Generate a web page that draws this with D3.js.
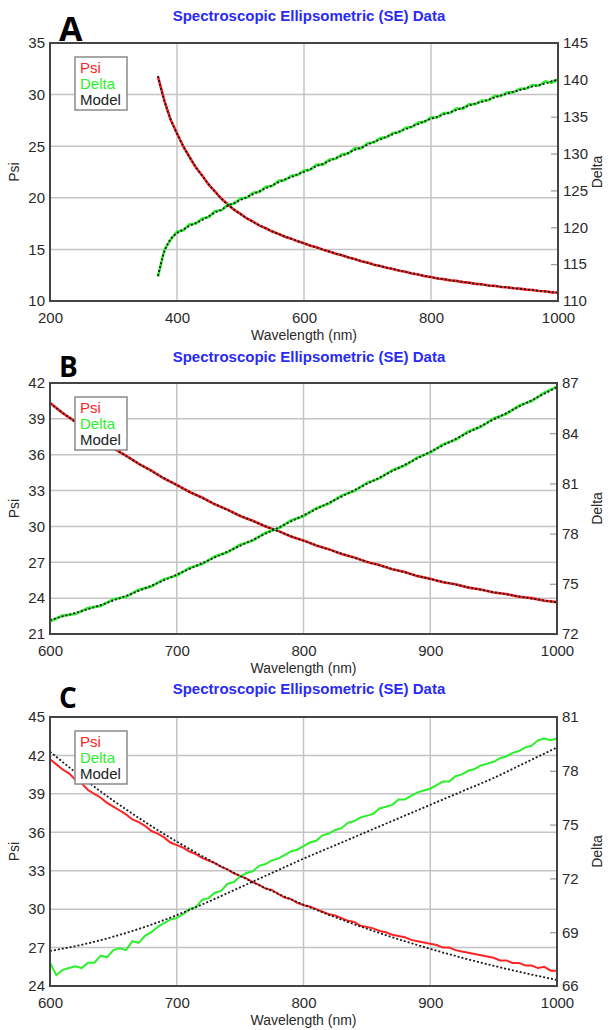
<!DOCTYPE html>
<html>
<head>
<meta charset="utf-8">
<script src="https://cdn.jsdelivr.net/npm/d3@7"></script>
<style>
  body { margin: 0; background: #fff; }
  svg text { font-family: "Liberation Sans", Arial, sans-serif; }
</style>
</head>
<body>
<script>
// ---- data ----
const titleText = "Spectroscopic Ellipsometric (SE) Data";
const legendItems = ["Psi", "Delta", "Model"];

// panel A
const xTicksA = [200, 400, 600, 800, 1000];
const psiTicksA = [10, 15, 20, 25, 30, 35];
const deltaTicksA = [110, 115, 120, 125, 130, 135, 140, 145];
const wlA = d3.range(370, 1001, 10);
const psiA = [31.75, 29.45, 27.55, 26.25,
  24.95, 23.93, 22.9, 22.14, 21.27, 20.6, 19.9, 19.37, 18.83, 18.44,
  18.0, 17.68, 17.3, 17.05, 16.73, 16.5, 16.23, 16.04, 15.78, 15.6,
  15.36, 15.2, 14.96, 14.8, 14.58, 14.43, 14.21, 14.06, 13.85, 13.72,
  13.52, 13.4, 13.22, 13.11, 12.94, 12.84, 12.67, 12.57, 12.41, 12.32,
  12.18, 12.12, 12.0, 11.95, 11.83, 11.78, 11.66, 11.62, 11.5, 11.47,
  11.36, 11.33, 11.23, 11.2, 11.1, 11.07, 10.97, 10.94, 10.84, 10.82];
const psiModelA = [31.8, 29.4, 27.6, 26.2,
  25.0, 23.9, 22.95, 22.1, 21.3, 20.58, 19.92, 19.34, 18.86, 18.42,
  18.02, 17.66, 17.33, 17.03, 16.75, 16.49, 16.25, 16.02, 15.8, 15.59,
  15.38, 15.18, 14.98, 14.79, 14.6, 14.41, 14.23, 14.05, 13.87, 13.7,
  13.54, 13.39, 13.24, 13.1, 12.96, 12.82, 12.69, 12.56, 12.43, 12.3,
  12.2, 12.11, 12.02, 11.93, 11.85, 11.76, 11.68, 11.6, 11.52, 11.45,
  11.38, 11.31, 11.25, 11.18, 11.12, 11.05, 10.99, 10.92, 10.86, 10.8];
const deltaA = [113.3, 116.9, 118.3, 119.4,
  119.6, 120.4, 120.5, 121.2, 121.4, 122.2, 122.3, 123.1, 123.2, 123.9,
  124.0, 124.7, 124.8, 125.5, 125.6, 126.3, 126.4, 127.0, 127.1, 127.7,
  127.8, 128.5, 128.5, 129.2, 129.3, 129.9, 130.0, 130.7, 130.7, 131.4,
  131.5, 132.1, 132.2, 132.8, 132.9, 133.5, 133.6, 134.2, 134.3, 134.9,
  134.9, 135.5, 135.5, 136.1, 136.1, 136.7, 136.7, 137.2, 137.2, 137.8,
  137.8, 138.3, 138.3, 138.8, 138.8, 139.3, 139.2, 139.8, 139.6, 140.1];
const deltaModelA = [113.4, 116.7, 118.4, 119.2,
  119.7, 120.2, 120.6, 121.0, 121.5, 122.0, 122.4, 122.9, 123.3, 123.7,
  124.1, 124.5, 124.9, 125.3, 125.7, 126.1, 126.5, 126.8, 127.2, 127.5,
  127.9, 128.3, 128.6, 129.0, 129.4, 129.7, 130.1, 130.5, 130.8, 131.2,
  131.6, 131.9, 132.3, 132.6, 133.0, 133.3, 133.7, 134.0, 134.4, 134.7,
  135.0, 135.3, 135.6, 135.9, 136.2, 136.5, 136.8, 137.0, 137.3, 137.6,
  137.9, 138.1, 138.4, 138.6, 138.9, 139.1, 139.3, 139.5, 139.8, 140.0];

// panel B
const xTicksB = [600, 700, 800, 900, 1000];
const psiTicksB = [21, 24, 27, 30, 33, 36, 39, 42];
const deltaTicksB = [72, 75, 78, 81, 84, 87];
const wlB = d3.range(600, 1001, 10);
const psiB = [40.35, 39.48, 38.77, 37.96, 37.29, 36.52, 35.92, 35.23, 34.67, 34.01, 33.48,
  32.88, 32.42, 31.85, 31.41, 30.87, 30.48, 29.99, 29.63, 29.16, 28.83,
  28.4, 28.1, 27.69, 27.41, 27.02, 26.77, 26.41, 26.18, 25.84, 25.63,
  25.33, 25.16, 24.88, 24.73, 24.47, 24.35, 24.11, 24.0, 23.78, 23.67];
const psiModelB = [40.3, 39.51, 38.74, 37.99, 37.26, 36.55, 35.89, 35.26, 34.64, 34.04, 33.45,
  32.91, 32.39, 31.88, 31.38, 30.9, 30.45, 30.02, 29.6, 29.19, 28.8,
  28.43, 28.07, 27.72, 27.38, 27.05, 26.74, 26.44, 26.15, 25.87, 25.6,
  25.36, 25.13, 24.91, 24.7, 24.5, 24.32, 24.14, 23.97, 23.81, 23.65];
const deltaB = [72.75, 73.1, 73.2, 73.55, 73.68, 74.08, 74.22, 74.65, 74.84, 75.28, 75.5,
  75.95, 76.18, 76.63, 76.88, 77.33, 77.58, 78.05, 78.3, 78.78, 79.04,
  79.52, 79.79, 80.27, 80.54, 81.03, 81.3, 81.79, 82.07, 82.56, 82.84,
  83.33, 83.61, 84.1, 84.38, 84.88, 85.15, 85.65, 85.92, 86.42, 86.78];
const deltaModelB = [72.85, 73.05, 73.26, 73.48, 73.73, 74.0, 74.28, 74.58, 74.89, 75.21, 75.55,
  75.89, 76.23, 76.57, 76.92, 77.27, 77.63, 77.99, 78.35, 78.72, 79.09,
  79.46, 79.84, 80.21, 80.59, 80.97, 81.35, 81.73, 82.12, 82.5, 82.89,
  83.27, 83.66, 84.04, 84.43, 84.82, 85.2, 85.59, 85.97, 86.36, 86.75];

// panel C
const xTicksC = [600, 700, 800, 900, 1000];
const psiTicksC = [24, 27, 30, 33, 36, 39, 42, 45];
const deltaTicksC = [66, 69, 72, 75, 78, 81];
const wlC = d3.range(600, 1001, 5);
const psiC = [41.7, 41.3, 40.9, 40.6, 40.1, 39.8, 39.3, 39.0, 38.7, 38.3, 38.0,
  37.7, 37.4, 37.0, 36.8, 36.5, 36.1, 35.9, 35.6, 35.2, 35.0,
  34.8, 34.5, 34.3, 34.0, 33.8, 33.6, 33.3, 33.1, 32.8, 32.6,
  32.4, 32.1, 31.9, 31.6, 31.5, 31.2, 30.9, 30.8, 30.5, 30.3,
  30.2, 30.0, 29.8, 29.6, 29.5, 29.3, 29.1, 29.0, 28.7, 28.6,
  28.5, 28.3, 28.2, 28.0, 27.9, 27.8, 27.6, 27.5, 27.4, 27.3,
  27.2, 27.0, 27.0, 26.8, 26.7, 26.6, 26.5, 26.4, 26.3, 26.2,
  26.0, 26.0, 25.8, 25.8, 25.6, 25.6, 25.4, 25.5, 25.2, 25.2];
const deltaC = [67.3, 66.6, 66.9, 67.0, 67.1, 67.0, 67.3, 67.3, 67.7, 67.6, 68.0,
  68.1, 68.0, 68.5, 68.4, 68.8, 69.0, 69.3, 69.5, 69.7, 69.8,
  70.0, 70.3, 70.4, 70.8, 70.9, 71.2, 71.3, 71.7, 71.8, 72.1,
  72.3, 72.4, 72.7, 72.8, 73.0, 73.1, 73.3, 73.5, 73.6, 73.8,
  74.0, 74.1, 74.4, 74.5, 74.7, 74.8, 75.1, 75.2, 75.4, 75.5,
  75.6, 75.9, 76.0, 76.1, 76.4, 76.4, 76.6, 76.8, 76.9, 77.0,
  77.2, 77.4, 77.4, 77.7, 77.8, 78.0, 78.1, 78.3, 78.4, 78.5,
  78.7, 78.8, 79.0, 79.1, 79.3, 79.4, 79.7, 79.8, 79.7, 79.8];
const wlModelC = d3.range(600, 1001, 25);
const psiModelC = [42.3, 40.3, 38.47, 36.8, 35.27, 33.87, 32.59, 31.42, 30.35,
  29.37, 28.47, 27.65, 26.9, 26.21, 25.58, 25.0, 24.47];
const deltaModelC = [67.95, 68.3, 68.75, 69.3, 69.95, 70.7, 71.5, 72.3, 73.1,
  73.85, 74.6, 75.35, 76.1, 76.85, 77.6, 78.45, 79.3];

// ---- layout ----
const W = 610, H = 1030;
const colors = { psi: "#ff2424", delta: "#2bef2b", model: "#1a1a1a" };

const panels = [
  { letter: "A", letterY: 41, letterSize: 34, titleY: 21, top: 43, bottom: 301, left: 50, right: 558, lw: 2.6,
    xTicks: xTicksA, psiTicks: psiTicksA, deltaTicks: deltaTicksA,
    psi: wlA.map((w, i) => [w, psiA[i]]), delta: wlA.map((w, i) => [w, deltaA[i]]),
    psiModel: wlA.map((w, i) => [w, psiModelA[i]]), deltaModel: wlA.map((w, i) => [w, deltaModelA[i]]) },
  { letter: "B", letterY: 377, letterSize: 28, titleY: 362, top: 383, bottom: 634, left: 50, right: 557, lw: 2.6,
    xTicks: xTicksB, psiTicks: psiTicksB, deltaTicks: deltaTicksB,
    psi: wlB.map((w, i) => [w, psiB[i]]), delta: wlB.map((w, i) => [w, deltaB[i]]),
    psiModel: wlB.map((w, i) => [w, psiModelB[i]]), deltaModel: wlB.map((w, i) => [w, deltaModelB[i]]) },
  { letter: "C", letterY: 708, letterSize: 28, titleY: 694, top: 717, bottom: 986, left: 50, right: 557, lw: 2,
    xTicks: xTicksC, psiTicks: psiTicksC, deltaTicks: deltaTicksC,
    psi: wlC.map((w, i) => [w, psiC[i]]), delta: wlC.map((w, i) => [w, deltaC[i]]),
    psiModel: wlModelC.map((w, i) => [w, psiModelC[i]]), deltaModel: wlModelC.map((w, i) => [w, deltaModelC[i]]) }
];

const svg = d3.select("body").append("svg")
  .attr("width", W).attr("height", H)
  .style("display", "block");

function drawPanel(p) {
  const x = d3.scaleLinear().domain(d3.extent(p.xTicks)).range([p.left, p.right]);
  const yPsi = d3.scaleLinear().domain(d3.extent(p.psiTicks)).range([p.bottom, p.top]);
  const yDelta = d3.scaleLinear().domain(d3.extent(p.deltaTicks)).range([p.bottom, p.top]);
  const g = svg.append("g");

  // title + panel letter
  g.append("text")
    .attr("x", 309).attr("y", p.titleY)
    .attr("text-anchor", "middle")
    .attr("font-size", 15).attr("font-weight", "bold")
    .attr("fill", "#2a2af5")
    .text(titleText);
  g.append("text")
    .attr("x", 59).attr("y", p.letterY)
    .style("font-family", "'Open Sans', 'Liberation Sans', sans-serif")
    .attr("font-size", p.letterSize).attr("font-weight", "bold")
    .attr("fill", "#000")
    .text(p.letter);

  // grid
  g.append("g").selectAll("line")
    .data(p.xTicks.slice(1, -1)).join("line")
    .attr("x1", d => x(d)).attr("x2", d => x(d))
    .attr("y1", p.top).attr("y2", p.bottom)
    .attr("stroke", "#c4c4c4").attr("stroke-width", 1.5);
  g.append("g").selectAll("line")
    .data(p.psiTicks.slice(1, -1)).join("line")
    .attr("x1", p.left).attr("x2", p.right)
    .attr("y1", d => yPsi(d)).attr("y2", d => yPsi(d))
    .attr("stroke", "#c4c4c4").attr("stroke-width", 1.5);

  // axes
  const fmt = d3.format("d");
  const ax = g.append("g")
    .attr("transform", `translate(0,${p.bottom})`)
    .call(d3.axisBottom(x).tickValues(p.xTicks).tickFormat(fmt).tickSize(0).tickPadding(11));
  const ay = g.append("g")
    .attr("transform", `translate(${p.left},0)`)
    .call(d3.axisLeft(yPsi).tickValues(p.psiTicks).tickFormat(fmt).tickSize(0).tickPadding(5));
  const ad = g.append("g")
    .attr("transform", `translate(${p.right},0)`)
    .call(d3.axisRight(yDelta).tickValues(p.deltaTicks).tickFormat(fmt)
      .tickSizeInner(-7).tickSizeOuter(0).tickPadding(5));
  [ax, ay, ad].forEach(a => {
    a.attr("font-size", 15);
    a.select(".domain").remove();
    a.selectAll("text").attr("fill", "#2a2a2a");
  });
  ad.selectAll(".tick line").attr("stroke", "#999").attr("stroke-width", 1.2);

  // data lines
  const linePsi = d3.line().x(d => x(d[0])).y(d => yPsi(d[1]));
  const lineDelta = d3.line().x(d => x(d[0])).y(d => yDelta(d[1]));
  const lineModelPsi = d3.line().curve(d3.curveMonotoneX).x(d => x(d[0])).y(d => yPsi(d[1]));
  const lineModelDelta = d3.line().curve(d3.curveMonotoneX).x(d => x(d[0])).y(d => yDelta(d[1]));

  g.append("path").attr("d", linePsi(p.psi))
    .attr("fill", "none").attr("stroke", colors.psi).attr("stroke-width", p.lw);
  g.append("path").attr("d", lineDelta(p.delta))
    .attr("fill", "none").attr("stroke", colors.delta).attr("stroke-width", p.lw);
  g.append("path").attr("d", lineModelPsi(p.psiModel))
    .attr("fill", "none").attr("stroke", colors.model).attr("stroke-width", 1.8)
    .attr("stroke-dasharray", "2,2");
  g.append("path").attr("d", lineModelDelta(p.deltaModel))
    .attr("fill", "none").attr("stroke", colors.model).attr("stroke-width", 1.8)
    .attr("stroke-dasharray", "2,2");

  // frame
  g.append("rect")
    .attr("x", p.left).attr("y", p.top)
    .attr("width", p.right - p.left).attr("height", p.bottom - p.top)
    .attr("fill", "none").attr("stroke", "#444").attr("stroke-width", 2);

  // axis titles
  g.append("text")
    .attr("x", (p.left + p.right) / 2).attr("y", p.bottom + 38.5)
    .attr("text-anchor", "middle").attr("font-size", 14).attr("fill", "#2a2a2a")
    .text("Wavelength (nm)");
  g.append("text")
    .attr("transform", `translate(19,${(p.top + p.bottom) / 2}) rotate(-90)`)
    .attr("text-anchor", "middle").attr("font-size", 14).attr("fill", "#2a2a2a")
    .text("Psi");
  g.append("text")
    .attr("transform", `translate(602,${(p.top + p.bottom) / 2}) rotate(-90)`)
    .attr("text-anchor", "middle").attr("font-size", 14).attr("fill", "#2a2a2a")
    .text("Delta");

  // legend
  const lg = g.append("g").attr("transform", `translate(${p.left + 25},${p.top + 14})`);
  lg.append("rect").attr("width", 52).attr("height", 53)
    .attr("fill", "#fff").attr("stroke", "#8a8a8a").attr("stroke-width", 1.5);
  lg.selectAll("text").data(legendItems).join("text")
    .attr("x", 5).attr("y", (d, i) => 16 + i * 16)
    .attr("font-size", 15)
    .attr("fill", (d, i) => [colors.psi, colors.delta, "#222"][i])
    .text(d => d);
}

panels.forEach(drawPanel);
</script>
</body>
</html>
